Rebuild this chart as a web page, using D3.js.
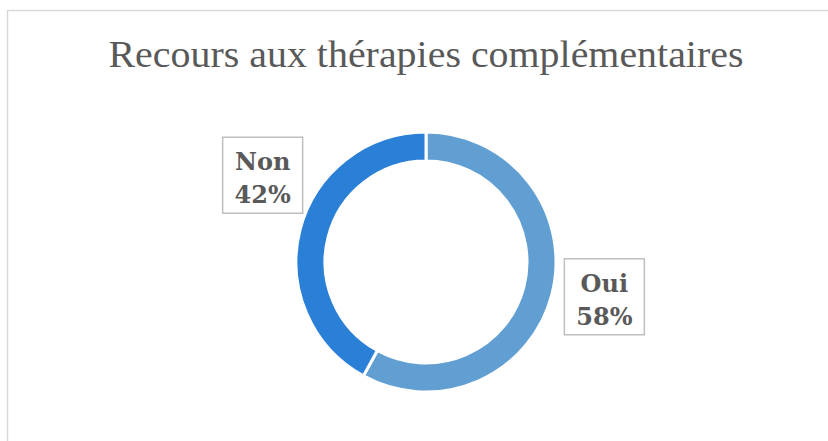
<!DOCTYPE html>
<html>
<head>
<meta charset="utf-8">
<script src="https://cdn.jsdelivr.net/npm/d3@7"></script>
<style>
  body { margin: 0; background: #fff; }
</style>
</head>
<body>
<script>
var categories = ["Oui", "Non"];
var values = [58, 42];
var colors = ["#619fd3", "#2a7fd7"];
var title = "Recours aux thérapies complémentaires";

var W = 828, H = 441;
var svg = d3.select("body").append("svg")
  .attr("width", W)
  .attr("height", H);

// chart frame (cut off at right and bottom)
svg.append("rect")
  .attr("x", 7.5).attr("y", 10.5)
  .attr("width", W).attr("height", H)
  .attr("fill", "#fff")
  .attr("stroke", "#d9d9d9")
  .attr("stroke-width", 1.5);

svg.append("text")
  .attr("x", 426).attr("y", 67)
  .attr("text-anchor", "middle")
  .attr("textLength", 635)
  .attr("lengthAdjust", "spacingAndGlyphs")
  .style("font-family", "'Liberation Serif', serif")
  .style("font-size", "38px")
  .style("fill", "#595959")
  .text(title);

var cx = 426, cy = 262;
var pie = d3.pie().sort(null).value(function(d, i) { return values[i]; });
var arc = d3.arc().innerRadius(101).outerRadius(130);
var arcs = pie(categories);

var g = svg.append("g").attr("transform", "translate(" + cx + "," + cy + ")");
g.selectAll("path")
  .data(arcs)
  .enter().append("path")
  .attr("d", arc)
  .attr("fill", function(d, i) { return colors[i]; })
  .attr("stroke", "#fff")
  .attr("stroke-width", 3);

// data labels placed outside the ring, nudged like excel does
var labelArc = d3.arc().innerRadius(180).outerRadius(180);
var nudge = [[4, -10], [11, -42]];
var boxW = 80, boxH = 76;
var labels = g.selectAll("g.lbl")
  .data(arcs)
  .enter().append("g")
  .attr("class", "lbl")
  .attr("transform", function(d, i) {
    var c = labelArc.centroid(d);
    return "translate(" + (c[0] + nudge[i][0]) + "," + (c[1] + nudge[i][1]) + ")";
  });

labels.append("rect")
  .attr("x", -boxW / 2).attr("y", -boxH / 2)
  .attr("width", boxW).attr("height", boxH)
  .attr("fill", "#fff")
  .attr("stroke", "#bfbfbf")
  .attr("stroke-width", 1.5);

labels.append("text")
  .attr("text-anchor", "middle")
  .attr("y", -5)
  .style("font-family", "'DejaVu Serif', serif")
  .style("font-weight", "bold")
  .style("font-size", "24px")
  .style("fill", "#595959")
  .text(function(d, i) { return categories[i]; });

labels.append("text")
  .attr("text-anchor", "middle")
  .attr("y", 28)
  .style("font-family", "'DejaVu Serif', serif")
  .style("font-weight", "bold")
  .style("font-size", "24px")
  .style("fill", "#595959")
  .text(function(d, i) { return values[i] + "%"; });
</script>
</body>
</html>
